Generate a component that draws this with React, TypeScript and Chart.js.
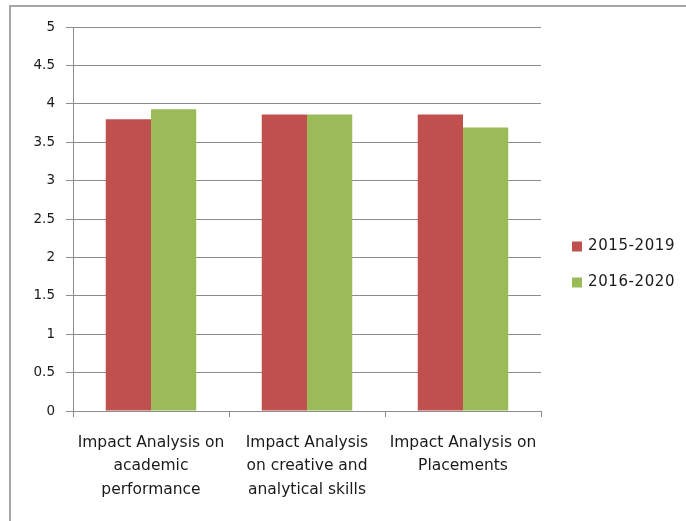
import React, { useEffect, useRef } from "react";
import { Chart, registerables } from "chart.js";

Chart.register(...registerables);

const categories: string[][] = [
  ["Impact Analysis on", "academic", "performance"],
  ["Impact Analysis", "on creative and", "analytical skills"],
  ["Impact Analysis on", "Placements"],
];
const seriesLabels = ["2015-2019", "2016-2020"];
const values20152019 = [3.8, 3.86, 3.86];
const values20162020 = [3.93, 3.86, 3.69];
const seriesColors = ["#C0504D", "#9BBB59"];
const yMin = 0;
const yMax = 5;
const yStep = 0.5;

const FONT = "'DejaVu Sans', sans-serif";

const framePlugin = {
  id: "frame",
  beforeDraw(chart: any) {
    const ctx = chart.ctx;
    ctx.save();
    ctx.fillStyle = "#ffffff";
    ctx.fillRect(0, 0, chart.width, chart.height);
    ctx.strokeStyle = "#a6a6a6";
    ctx.lineWidth = 2;
    ctx.beginPath();
    ctx.moveTo(10, chart.height);
    ctx.lineTo(10, 6);
    ctx.lineTo(chart.width, 6);
    ctx.stroke();
    ctx.restore();
  },
};

const legendPlugin = {
  id: "customLegend",
  afterDraw(chart: any) {
    const ctx = chart.ctx;
    ctx.save();
    ctx.font = `15px ${FONT}`;
    try {
      (ctx as any).letterSpacing = "0.6px";
    } catch (e) {}
    ctx.textBaseline = "middle";
    ctx.textAlign = "left";
    chart.data.datasets.forEach((ds: any, i: number) => {
      const cy = 246.5 + i * 36;
      ctx.fillStyle = ds.backgroundColor;
      ctx.fillRect(572, cy - 5, 10, 10);
      ctx.fillStyle = "#1a1a1a";
      ctx.fillText(ds.label, 588, cy);
    });
    ctx.restore();
  },
};

export default function App() {
  const ref = useRef<HTMLCanvasElement | null>(null);
  useEffect(() => {
    if (!ref.current) return;
    const chart = new Chart(ref.current, {
      type: "bar",
      data: {
        labels: categories as any,
        datasets: [
          {
            label: seriesLabels[0],
            data: values20152019,
            backgroundColor: seriesColors[0],
            categoryPercentage: 0.58,
            barPercentage: 1,
          },
          {
            label: seriesLabels[1],
            data: values20162020,
            backgroundColor: seriesColors[1],
            categoryPercentage: 0.58,
            barPercentage: 1,
          },
        ],
      },
      options: {
        responsive: false,
        animation: false,
        devicePixelRatio: 1,
        layout: { padding: { left: 0, top: 27, right: 145, bottom: 0 } },
        plugins: {
          legend: { display: false },
          tooltip: { enabled: false },
        },
        scales: {
          x: {
            offset: true,
            grid: {
              offset: true,
              drawOnChartArea: false,
              drawTicks: true,
              tickLength: 6,
              color: "#8c8c8c",
            },
            border: { color: "#8c8c8c", width: 1 },
            ticks: {
              color: "#1a1a1a",
              font: { family: FONT, size: 15.5, lineHeight: 1.52 },
              padding: 14,
              maxRotation: 0,
              autoSkip: false,
            },
            afterFit(scale: any) {
              scale.height = 110;
            },
          },
          y: {
            min: yMin,
            max: yMax,
            ticks: {
              stepSize: yStep,
              color: "#1a1a1a",
              font: { family: FONT, size: 13.5 },
              padding: 11,
              callback: (v: any) => String(Number(v)),
            },
            grid: {
              color: "#8c8c8c",
              tickLength: 7,
              drawTicks: true,
            },
            border: { color: "#8c8c8c", width: 1 },
            afterFit(scale: any) {
              scale.width = 73;
            },
          },
        },
      },
      plugins: [framePlugin, legendPlugin],
    });
    return () => chart.destroy();
  }, []);
  return (
    <div style={{ position: "fixed", left: 0, top: 0, width: 686, height: 521 }}>
      <canvas ref={ref} width={686} height={521} style={{ display: "block", width: 686, height: 521 }} />
    </div>
  );
}
